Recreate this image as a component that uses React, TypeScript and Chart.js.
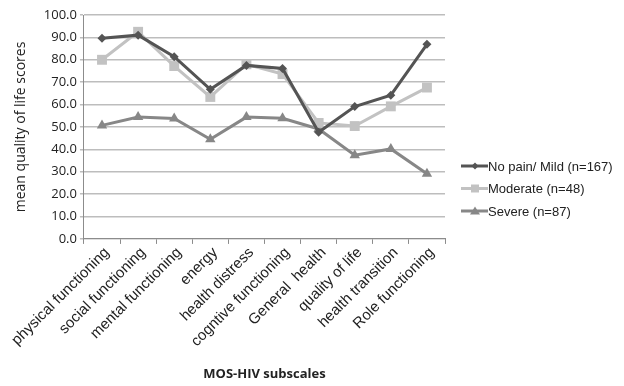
import React, { useEffect, useRef } from "react";
import { Chart, registerables } from "chart.js";

Chart.register(...registerables);

const categories = [
  "physical functioning",
  "social functioning",
  "mental functioning",
  "energy",
  "health distress",
  "cogntive functioning",
  "General  health",
  "quality of life",
  "health transition",
  "Role functioning",
];
const noPainMild = [89.6, 91.0, 81.4, 66.8, 77.5, 76.1, 47.6, 59.1, 64.2, 86.9];
const moderate = [80.0, 92.5, 77.2, 63.4, 78.0, 73.6, 51.8, 50.4, 59.2, 67.6];
const severe = [50.7, 54.4, 53.8, 44.5, 54.4, 53.9, 49.1, 37.4, 40.2, 29.1];
const yTicks = [0, 10, 20, 30, 40, 50, 60, 70, 80, 90, 100];

const seriesNames = ["No pain/ Mild (n=167)", "Moderate (n=48)", "Severe (n=87)"];

const legendPlugin = {
  id: "customLegend",
  afterDraw(chart: any) {
    const ctx = chart.ctx;
    const x0 = 453;
    const y0 = 158;
    const gap = 22.5;
    chart.data.datasets.forEach((ds: any, i: number) => {
      const y = y0 + i * gap;
      ctx.save();
      ctx.strokeStyle = ds.borderColor;
      ctx.lineWidth = 3;
      ctx.beginPath();
      ctx.moveTo(x0, y);
      ctx.lineTo(x0 + 27, y);
      ctx.stroke();
      ctx.fillStyle = ds.pointBackgroundColor;
      const cx = x0 + 14;
      ctx.beginPath();
      if (ds.pointStyle === "rectRot") {
        ctx.moveTo(cx, y - 3.5);
        ctx.lineTo(cx + 3.5, y);
        ctx.lineTo(cx, y + 3.5);
        ctx.lineTo(cx - 3.5, y);
      } else if (ds.pointStyle === "rect") {
        ctx.rect(cx - 4, y - 4, 8, 8);
      } else {
        ctx.moveTo(cx, y - 4.5);
        ctx.lineTo(cx + 5, y + 3.5);
        ctx.lineTo(cx - 5, y + 3.5);
      }
      ctx.closePath();
      ctx.fill();
      ctx.fillStyle = "#222";
      ctx.font = "13px 'Liberation Sans', Arial, sans-serif";
      ctx.textBaseline = "middle";
      ctx.textAlign = "left";
      ctx.fillText(ds.label, x0 + 27, y + 1);
      ctx.restore();
    });
  },
};

export default function App() {
  const ref = useRef<HTMLCanvasElement>(null);
  useEffect(() => {
    if (!ref.current) return;
    const chart = new Chart(ref.current, {
      type: "line",
      data: {
        labels: categories,
        datasets: [
          {
            label: seriesNames[0],
            data: noPainMild,
            borderColor: "#545454",
            backgroundColor: "#545454",
            pointBackgroundColor: "#545454",
            pointBorderColor: "#545454",
            pointStyle: "rectRot",
            pointRadius: 4.5,
            pointBorderWidth: 0,
            borderWidth: 3,
            tension: 0,
          },
          {
            label: seriesNames[1],
            data: moderate,
            borderColor: "#c2c2c2",
            backgroundColor: "#c2c2c2",
            pointBackgroundColor: "#c2c2c2",
            pointBorderColor: "#c2c2c2",
            pointStyle: "rect",
            pointRadius: 7,
            pointBorderWidth: 0,
            borderWidth: 3,
            tension: 0,
          },
          {
            label: seriesNames[2],
            data: severe,
            borderColor: "#878787",
            backgroundColor: "#878787",
            pointBackgroundColor: "#878787",
            pointBorderColor: "#878787",
            pointStyle: "triangle",
            pointRadius: 6,
            pointBorderWidth: 0,
            borderWidth: 3,
            tension: 0,
          },
        ],
      },
      options: {
        animation: false,
        responsive: false,
        layout: { padding: { top: 7, right: 171, left: 5, bottom: 0 } },
        plugins: {
          legend: { display: false },
          tooltip: { enabled: false },
        },
        scales: {
          x: {
            offset: true,
            afterFit: (scale: any) => {
              scale.paddingLeft = 0;
              scale.paddingRight = 0;
            },
            grid: {
              offset: true,
              drawOnChartArea: false,
              drawTicks: true,
              tickLength: 5,
              color: "#8c8c8c",
            },
            border: { color: "#8c8c8c" },
            ticks: {
              minRotation: 45,
              maxRotation: 45,
              labelOffset: 5,
              color: "#222",
              padding: 0,
              font: { family: "'Liberation Sans', Arial, sans-serif", size: 15 },
            },
            title: {
              display: true,
              text: "MOS-HIV subscales",
              color: "#222",
              font: { family: "'Open Sans', sans-serif", size: 13, weight: "bold" },
              padding: { top: 16, bottom: -4 },
            },
          },
          y: {
            min: 0,
            max: 100,
            afterFit: (scale: any) => {
              scale.paddingTop = 0;
              scale.paddingBottom = 0;
            },
            afterBuildTicks: (axis: any) => {
              axis.ticks = yTicks.map((v) => ({ value: v }));
            },
            grid: {
              color: "#bdbdbd",
              lineWidth: 1.5,
              drawTicks: true,
              tickLength: 4,
            },
            border: { color: "#8c8c8c" },
            ticks: {
              color: "#222",
              padding: 3,
              font: { family: "'Open Sans', sans-serif", size: 13 },
              callback: (v: any) => Number(v).toFixed(1),
            },
            title: {
              display: true,
              text: "mean quality of life scores",
              color: "#222",
              font: { family: "'Open Sans', sans-serif", size: 14 },
              padding: { top: 0, bottom: 11 },
            },
          },
        },
      },
      plugins: [legendPlugin],
    });
    return () => chart.destroy();
  }, []);
  return (
    <div style={{ width: 608, height: 370, position: "relative" }}>
      <canvas ref={ref} width={608} height={370} />
    </div>
  );
}
